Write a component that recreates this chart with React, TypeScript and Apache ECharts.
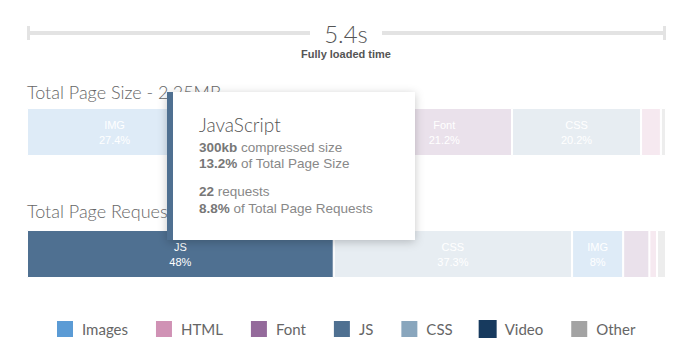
import React, { useEffect, useRef } from "react";
import * as echarts from "echarts";

// ---- data ----
const legendNames = ["Images", "HTML", "Font", "JS", "CSS", "Video", "Other"];
const legendColors = ["#5b9bd5", "#d092b5", "#946a9b", "#4f7091", "#89a6bd", "#173a5e", "#a3a3a3"];

const sizeTypes = ["Images", "JS", "Font", "CSS", "HTML", "Other"];
const sizeValues = [27.4, 27.3, 21.2, 20.2, 3.1, 0.8];
const sizeLabels = ["IMG", "JS", "Font", "CSS", "", ""];

const requestTypes = ["JS", "CSS", "Images", "Font", "HTML", "Other"];
const requestValues = [48, 37.3, 8, 4.1, 1.2, 1.4];
const requestLabels = ["JS", "CSS", "IMG", "", "", ""];

const highlighted = "JS";
const loadTime = "5.4s";
const sizeTitle = "Total Page Size - 2.25MB";
const requestTitle = "Total Page Requests - 250";

const tipTitle = "JavaScript";
const tipSize = "300kb";
const tipSizePct = "13.2%";
const tipRequests = "22";
const tipRequestPct = "8.8%";

function fade(hex: string, a: number) {
  const n = parseInt(hex.slice(1), 16);
  const r = (n >> 16) & 255, g = (n >> 8) & 255, b = n & 255;
  const f = (c: number) => Math.round(255 - a * (255 - c));
  return `rgb(${f(r)},${f(g)},${f(b)})`;
}
const colorOf = (name: string) => legendColors[legendNames.indexOf(name)];

export default function App() {
  const ref = useRef<HTMLDivElement>(null);
  useEffect(() => {
    document.body.style.margin = "0";
    const chart = echarts.init(ref.current!, undefined, { renderer: "svg" });

    const makeSeries = (types: string[], values: number[], labels: string[], idx: number) =>
      types.map((t, i) => ({
        type: "bar",
        name: t,
        stack: "s" + idx,
        xAxisIndex: idx,
        yAxisIndex: idx,
        barWidth: 48,
        itemStyle: { color: colorOf(t), borderColor: "#fff", borderWidth: 1 },
        label: {
          show: labels[i] !== "",
          position: "inside",
          formatter: `${labels[i]}\n${values[i]}%`,
          color: "#fff",
          fontFamily: "Liberation Sans, Arial, sans-serif",
          fontSize: 11,
          lineHeight: 15,
        },
        emphasis: { disabled: true },
        data: [
          {
            value: values[i],
            itemStyle: { color: t === highlighted ? colorOf(t) : fade(colorOf(t), 0.2) },
          },
        ],
      }));

    const series: any[] = [
      ...makeSeries(sizeTypes, sizeValues, sizeLabels, 0),
      ...makeSeries(requestTypes, requestValues, requestLabels, 1),
      {
        type: "bar",
        name: "Video",
        stack: "s0",
        xAxisIndex: 0,
        yAxisIndex: 0,
        itemStyle: { color: colorOf("Video") },
        data: [],
      },
    ];

    const tipFont = "Liberation Sans, Arial, sans-serif";
    const tipRich = { b: { fontWeight: "bold", fill: "#777", fontSize: 13.5, fontFamily: tipFont } };

    chart.setOption({
      animation: false,
      grid: [
        { left: 27, right: 28, top: 108, height: 48 },
        { left: 27, right: 28, top: 230, height: 48 },
      ],
      xAxis: [
        { type: "value", gridIndex: 0, min: 0, max: 100, show: false },
        { type: "value", gridIndex: 1, min: 0, max: 100, show: false },
      ],
      yAxis: [
        { type: "category", gridIndex: 0, data: ["size"], show: false },
        { type: "category", gridIndex: 1, data: ["requests"], show: false },
      ],
      legend: {
        left: 55,
        top: 319,
        padding: 0,
        icon: "rect",
        itemWidth: 18,
        itemHeight: 18,
        itemGap: 26,
        selectedMode: false,
        data: legendNames.map((n, i) => ({ name: n, itemStyle: { color: legendColors[i], opacity: 1 } })),
        textStyle: { fontFamily: "Lato", fontSize: 15, color: "#666", padding: [0, 0, 0, 3] },
      },
      series,
      graphic: [
        { type: "rect", shape: { x: 27, y: 31, width: 283, height: 4 }, style: { fill: "#e3e3e3" }, z: 1 },
        { type: "rect", shape: { x: 382, y: 31, width: 284, height: 4 }, style: { fill: "#e3e3e3" }, z: 1 },
        { type: "rect", shape: { x: 27, y: 26, width: 3, height: 14 }, style: { fill: "#e3e3e3" }, z: 1 },
        { type: "rect", shape: { x: 663, y: 26, width: 3, height: 14 }, style: { fill: "#e3e3e3" }, z: 1 },
        {
          type: "text", x: 346, y: 33, z: 1,
          style: { text: loadTime, fill: "#555", font: "300 24px Lato", align: "center", verticalAlign: "middle" },
        },
        {
          type: "text", x: 346, y: 54, z: 1,
          style: { text: "Fully loaded time", fill: "#555", font: "bold 11px 'Liberation Sans', Arial", align: "center", verticalAlign: "middle" },
        },
        {
          type: "text", x: 27, y: 92, z: 1,
          style: { text: sizeTitle, fill: "#666", font: "300 18px Lato", verticalAlign: "middle" },
        },
        {
          type: "text", x: 27, y: 211, z: 1,
          style: { text: requestTitle, fill: "#666", font: "300 18px Lato", verticalAlign: "middle" },
        },
        {
          type: "group", z: 100,
          children: [
            {
              type: "rect", z: 100, shape: { x: 167, y: 92, width: 248, height: 148 },
              style: { fill: "#fff", shadowBlur: 10, shadowColor: "rgba(0,0,0,0.22)", shadowOffsetY: 2 },
            },
            { type: "rect", z: 101, shape: { x: 167, y: 92, width: 6, height: 148 }, style: { fill: colorOf(highlighted) } },
            {
              type: "text", z: 101, x: 199, y: 124,
              style: { text: tipTitle, fill: "#555", font: "300 19px Lato", verticalAlign: "middle" },
            },
            {
              type: "text", z: 101, x: 199, y: 147,
              style: { text: `{b|${tipSize}} compressed size`, fill: "#888", fontSize: 13.5, fontFamily: tipFont, verticalAlign: "middle", rich: tipRich },
            },
            {
              type: "text", z: 101, x: 199, y: 163,
              style: { text: `{b|${tipSizePct}} of Total Page Size`, fill: "#888", fontSize: 13.5, fontFamily: tipFont, verticalAlign: "middle", rich: tipRich },
            },
            {
              type: "text", z: 101, x: 199, y: 191,
              style: { text: `{b|${tipRequests}} requests`, fill: "#888", fontSize: 13.5, fontFamily: tipFont, verticalAlign: "middle", rich: tipRich },
            },
            {
              type: "text", z: 101, x: 199, y: 208,
              style: { text: `{b|${tipRequestPct}} of Total Page Requests`, fill: "#888", fontSize: 13.5, fontFamily: tipFont, verticalAlign: "middle", rich: tipRich },
            },
          ],
        },
      ],
    });
    return () => chart.dispose();
  }, []);
  return <div ref={ref} style={{ width: 694, height: 362 }} />;
}
